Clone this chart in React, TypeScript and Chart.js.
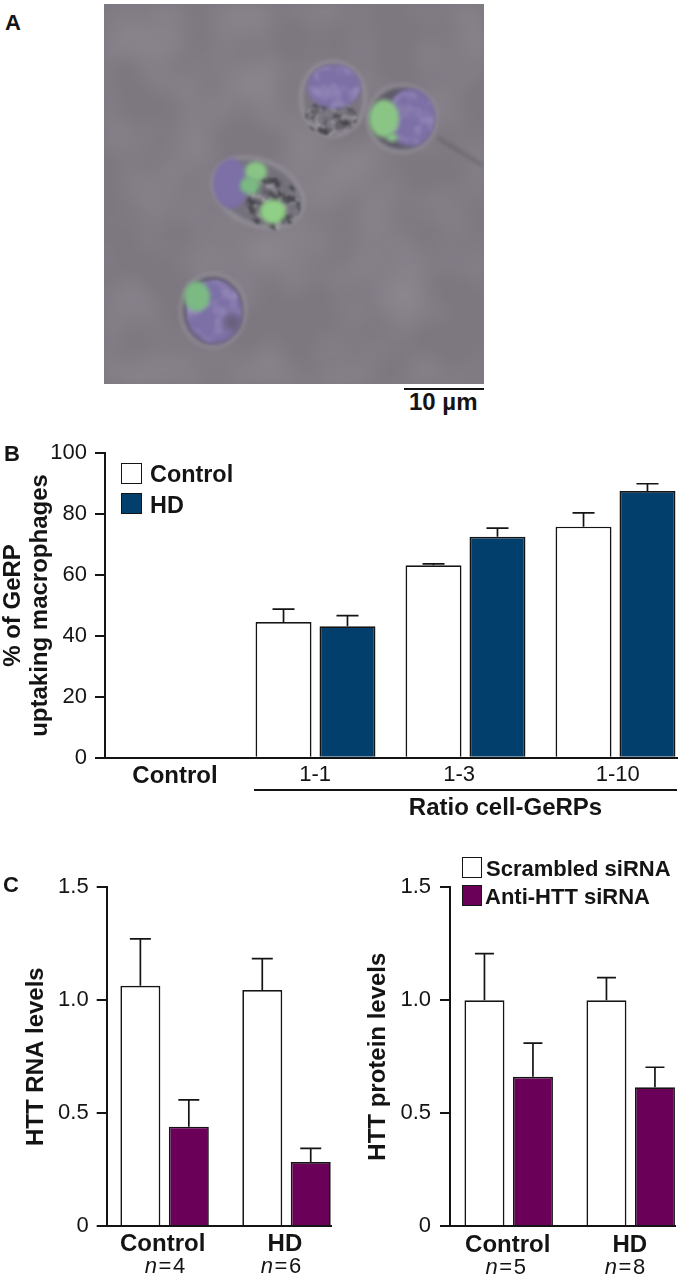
import React, { useEffect, useRef } from "react";
import { Chart, registerables } from "chart.js";

Chart.register(...registerables);

const FONT = '"Liberation Sans", Arial, sans-serif';
const INK = "#141414";
const NAVY = "#033f6c";
const PURPLE = "#6b0058";

// Panel B
const uptakeCategories = ["Control", "1-1", "1-3", "1-10"];
const uptakeControl = [null, 44.6, 63.2, 75.9];
const uptakeControlErr = [0, 4.2, 0.5, 4.5];
const uptakeHD = [null, 43.2, 72.6, 87.6];
const uptakeHDErr = [0, 3.5, 2.8, 2.4];

// Panel C
const siCategories = ["Control", "HD"];
const rnaScrambled = [1.064, 1.045];
const rnaScrambledErr = [0.208, 0.139];
const rnaAnti = [0.44, 0.283];
const rnaAntiErr = [0.119, 0.061];
const rnaN = ["4", "6"];
const proteinScrambled = [1.0, 1.0];
const proteinScrambledErr = [0.206, 0.1];
const proteinAnti = [0.661, 0.614];
const proteinAntiErr = [0.149, 0.089];
const proteinN = ["5", "8"];

const errorBarsPlugin = {
  id: "errorBars",
  afterDatasetsDraw(chart: any) {
    const { ctx, scales } = chart;
    const capHalf = chart.options.plugins.errorBars.capHalf;
    chart.data.datasets.forEach((ds: any, d: number) => {
      const meta = chart.getDatasetMeta(d);
      ds.data.forEach((pt: any, i: number) => {
        if (pt.y === null) return;
        const x = meta.data[i].x;
        const y0 = scales.y.getPixelForValue(pt.y);
        const y1 = scales.y.getPixelForValue(pt.y + ds.errors[i]);
        ctx.save();
        ctx.strokeStyle = INK;
        ctx.lineWidth = 1.7;
        ctx.beginPath();
        ctx.moveTo(x, y0);
        ctx.lineTo(x, y1);
        ctx.moveTo(x - capHalf, y1);
        ctx.lineTo(x + capHalf, y1);
        ctx.stroke();
        ctx.restore();
      });
    });
  },
};

const annotationsPlugin = {
  id: "annotations",
  afterDraw(chart: any) {
    const { ctx, scales } = chart;
    const o = chart.options.plugins.annotations;
    ctx.save();
    ctx.fillStyle = INK;
    ctx.textBaseline = "middle";
    if (o.bracket) {
      const b = o.bracket;
      const from = scales.x.getPixelForValue(b.fromValue);
      const to = scales.x.right;
      const y = scales.y.bottom + b.lineOffset;
      ctx.strokeStyle = INK;
      ctx.lineWidth = 2;
      ctx.beginPath();
      ctx.moveTo(from, y);
      ctx.lineTo(to, y);
      ctx.stroke();
      ctx.font = `bold 24px ${FONT}`;
      ctx.textAlign = "center";
      ctx.fillText(b.text, b.textX, scales.y.bottom + b.textOffset);
    }
    (o.sampleSizes || []).forEach((n: string, i: number) => {
      const cx = scales.x.getPixelForValue(i) + o.sampleNudge[i];
      const y = scales.y.bottom + o.sampleOffset;
      const gap = 1.6;
      ctx.font = `italic 22px ${FONT}`;
      const nW = ctx.measureText("n").width;
      ctx.font = `22px ${FONT}`;
      const eqW = ctx.measureText("=").width;
      const numW = ctx.measureText(n).width;
      const left = cx - (nW + eqW + numW + 2 * gap) / 2;
      ctx.textAlign = "left";
      ctx.font = `italic 22px ${FONT}`;
      ctx.fillText("n", left, y);
      ctx.font = `22px ${FONT}`;
      ctx.fillText("=", left + nW + gap, y);
      ctx.fillText(n, left + nW + eqW + 2 * gap, y);
    });
    ctx.restore();
  },
};

function useBarChart(build: () => any) {
  const ref = useRef<HTMLCanvasElement | null>(null);
  useEffect(() => {
    if (!ref.current) return;
    const chart = new Chart(ref.current, build());
    return () => chart.destroy();
  }, []);
  return ref;
}

function config(p: any) {
  const { w, h, area, c0, spacing, labels, series, yMax, yStep, yFmt, title, titlePad, catPct, barPct, capHalf, labelPos, labelFont, labelPad, yPad, annotations } = p;
  return {
    type: "bar",
    data: {
      datasets: series.map((s: any) => ({
        label: s.label,
        data: s.values.map((y: any, i: number) => ({ x: i, y })),
        errors: s.errors,
        backgroundColor: s.color,
        borderColor: INK,
        borderWidth: 1.7,
        categoryPercentage: catPct,
        barPercentage: barPct,
      })),
    },
    plugins: [errorBarsPlugin, annotationsPlugin],
    options: {
      responsive: false,
      animation: false,
      events: [],
      layout: {
        autoPadding: false,
        padding: { left: 0, top: area.top, right: w - area.right, bottom: 0 },
      },
      plugins: {
        legend: { display: false },
        tooltip: { enabled: false },
        title: { display: false },
        errorBars: { capHalf },
        annotations,
      },
      scales: {
        x: {
          type: "linear",
          offset: false,
          min: (area.left - c0) / spacing,
          max: (area.right - c0) / spacing,
          afterFit: (s: any) => {
            s.height = h - area.bottom;
            s.paddingLeft = 0;
            s.paddingRight = 0;
          },
          afterBuildTicks: (s: any) => { s.ticks = labelPos.map((value: number) => ({ value })); },
          grid: { display: false, drawTicks: false, offset: false },
          border: { display: true, color: INK, width: 2, z: 2 },
          ticks: {
            autoSkip: false,
            maxRotation: 0,
            minRotation: 0,
            padding: labelPad,
            color: INK,
            font: labelFont,
            callback: (_v: any, i: number) => labels[i],
          },
        },
        y: {
          min: 0,
          max: yMax,
          afterFit: (s: any) => {
            s.width = area.left;
            s.paddingTop = 0;
            s.paddingBottom = 0;
          },
          grid: { drawOnChartArea: false, drawTicks: true, tickLength: 10, color: INK, lineWidth: 2 },
          border: { display: true, color: INK, width: 2, z: 2 },
          ticks: {
            stepSize: yStep,
            padding: yPad,
            color: INK,
            font: { family: FONT, size: 22 },
            callback: yFmt,
          },
          title: {
            display: true,
            text: title,
            color: INK,
            padding: { top: titlePad, bottom: 0 },
            font: { family: FONT, size: 24, weight: "bold", lineHeight: 1.125 },
          },
        },
      },
    },
  };
}

const boldTick = { family: FONT, size: 24, weight: "bold" };
const regularTick = { family: FONT, size: 22, weight: "normal" };
const decimalFmt = (v: number) => (v === 0 ? "0" : v.toFixed(1));

function Micrograph() {
  const bg = "#7d7780";
  const violet = "#7c6fa6";
  const green = "#8ac586";
  const ring = "#9e9aa2";
  return (
    <svg width={380} height={380} viewBox="104 3.5 380 380" style={{ position: "absolute", left: 104, top: 3.5 }}>
      <defs>
        <filter id="mottle" x="0" y="0" width="100%" height="100%">
          <feTurbulence type="fractalNoise" baseFrequency="0.014" numOctaves="2" seed="7" />
          <feColorMatrix values="0 0 0 0 0.36  0 0 0 0 0.34  0 0 0 0 0.38  0.9 0 0 0 -0.33" />
          <feGaussianBlur stdDeviation="4" />
        </filter>
        <filter id="soft" x="-20%" y="-20%" width="140%" height="140%"><feGaussianBlur stdDeviation="2" /></filter>
        <filter id="softer" x="-40%" y="-40%" width="180%" height="180%"><feGaussianBlur stdDeviation="3.5" /></filter>
        <filter id="debris" x="-10%" y="-10%" width="120%" height="120%">
          <feTurbulence type="fractalNoise" baseFrequency="0.11" numOctaves="2" seed="3" />
          <feColorMatrix values="0 0 0 0 0.06  0 0 0 0 0.06  0 0 0 0 0.07  3.4 0 0 0 -1.4" />
          <feComposite in2="SourceAlpha" operator="in" />
          <feGaussianBlur stdDeviation="0.8" />
        </filter>
        <filter id="flecks" x="-10%" y="-10%" width="120%" height="120%">
          <feTurbulence type="fractalNoise" baseFrequency="0.14" numOctaves="2" seed="11" />
          <feColorMatrix values="0 0 0 0 0.42  0 0 0 0 0.42  0 0 0 0 0.44  2.4 0 0 0 -1.25" />
          <feComposite in2="SourceAlpha" operator="in" />
          <feGaussianBlur stdDeviation="0.9" />
        </filter>
        <filter id="grain" x="-5%" y="-5%" width="110%" height="110%">
          <feTurbulence type="fractalNoise" baseFrequency="0.07" numOctaves="2" seed="21" />
          <feColorMatrix values="0 0 0 0 0.32  0 0 0 0 0.27  0 0 0 0 0.5  2.2 0 0 0 -0.95" />
          <feComposite in2="SourceAlpha" operator="in" />
          <feGaussianBlur stdDeviation="1" />
        </filter>
      </defs>
      <rect x={104} y={3.5} width={380} height={380} fill={bg} />
      <rect x={104} y={3.5} width={380} height={380} filter="url(#mottle)" />
      <path d="M437 137 L483 165" stroke="#5a555e" strokeWidth={2} filter="url(#soft)" fill="none" />

      {/* cell top */}
      <ellipse cx={333} cy={98} rx={32} ry={37} fill="#7a757f" stroke={ring} strokeWidth={2.5} filter="url(#soft)" />
      <ellipse cx={331} cy={117} rx={26} ry={18} fill="#000" filter="url(#debris)" />
      <ellipse cx={331} cy={117} rx={26} ry={18} fill="#000" filter="url(#flecks)" />
      <ellipse cx={334} cy={86} rx={27} ry={22} fill={violet} filter="url(#soft)" />
      <ellipse cx={334} cy={86} rx={26} ry={21} fill="#000" filter="url(#grain)" />

      {/* cell right */}
      <ellipse cx={402} cy={118} rx={34} ry={33} fill="#5f5a68" stroke={ring} strokeWidth={2.5} filter="url(#soft)" />
      <ellipse cx={411} cy={117} rx={24} ry={29} fill={violet} filter="url(#soft)" />
      <ellipse cx={411} cy={117} rx={23} ry={28} fill="#000" filter="url(#grain)" />
      <ellipse cx={384} cy={118} rx={15} ry={19} fill={green} filter="url(#soft)" />
      <ellipse cx={392} cy={137} rx={6} ry={4} fill={green} filter="url(#soft)" />

      {/* cell middle */}
      <g transform="rotate(24 258 192)">
        <ellipse cx={258} cy={192} rx={47} ry={32} fill="#75717b" stroke={ring} strokeWidth={2.5} filter="url(#soft)" />
        <ellipse cx={276} cy={196} rx={28} ry={26} fill="#000" filter="url(#debris)" />
        <ellipse cx={276} cy={196} rx={28} ry={26} fill="#000" filter="url(#flecks)" />
      </g>
      <ellipse cx={231} cy={183} rx={18} ry={25} fill={violet} filter="url(#soft)" />
      <ellipse cx={256} cy={171} rx={11} ry={10} fill={green} filter="url(#soft)" />
      <ellipse cx={250} cy={185} rx={10} ry={9} fill="#7ab982" filter="url(#soft)" />
      <ellipse cx={273} cy={211} rx={13} ry={12} fill="#90cf86" filter="url(#soft)" />

      {/* cell bottom */}
      <ellipse cx={213} cy={310} rx={32} ry={36} fill="#5d5866" stroke={ring} strokeWidth={2.5} filter="url(#soft)" />
      <ellipse cx={214} cy={311} rx={28} ry={32} fill={violet} filter="url(#soft)" />
      <ellipse cx={214} cy={311} rx={27} ry={31} fill="#000" filter="url(#grain)" />
      <ellipse cx={197} cy={296} rx={13} ry={15} fill="#7cba84" filter="url(#soft)" />
      <ellipse cx={232} cy={322} rx={8} ry={8} fill="#665f78" filter="url(#softer)" />
    </svg>
  );
}

const label = (extra: React.CSSProperties): React.CSSProperties => ({
  position: "absolute",
  fontFamily: FONT,
  fontWeight: "bold",
  color: INK,
  whiteSpace: "nowrap",
  lineHeight: 1,
  ...extra,
});

const swatch = (left: number, top: number, fill: string, h = 21): React.CSSProperties => ({
  position: "absolute",
  left,
  top,
  width: 20.5,
  height: h,
  boxSizing: "border-box",
  background: fill,
  border: `1.7px solid ${INK}`,
});

export default function App() {
  const bRef = useBarChart(() =>
    config({
      w: 680, h: 395,
      area: { left: 105, top: 13.3, right: 677, bottom: 317.7 },
      c0: 165.5, spacing: 150,
      labels: uptakeCategories,
      labelPos: [0.063, 0.997, 1.957, 3.015],
      labelFont: (ctx: any) => (ctx.index === 0 ? boldTick : regularTick),
      labelPad: 4,
      yPad: 8,
      series: [
        { label: "Control", values: uptakeControl, errors: uptakeControlErr, color: "#ffffff" },
        { label: "HD", values: uptakeHD, errors: uptakeHDErr, color: NAVY },
      ],
      yMax: 100, yStep: 20, yFmt: (v: number) => String(v),
      title: ["% of GeRP", "uptaking macrophages"], titlePad: 0,
      catPct: 0.913, barPct: 0.875, capHalf: 11,
      annotations: {
        bracket: { fromValue: 0.59, lineOffset: 32.3, text: "Ratio cell-GeRPs", textX: 505.5, textOffset: 50.5 },
      },
    })
  );
  const rnaRef = useBarChart(() =>
    config({
      w: 340, h: 410,
      area: { left: 106.7, top: 17.3, right: 331.5, bottom: 356 },
      c0: 164.6, spacing: 121.9,
      labels: siCategories,
      labelPos: [-0.016, 0.987],
      labelFont: boldTick,
      labelPad: 4,
      yPad: 8,
      series: [
        { label: "Scrambled siRNA", values: rnaScrambled, errors: rnaScrambledErr, color: "#ffffff" },
        { label: "Anti-HTT siRNA", values: rnaAnti, errors: rnaAntiErr, color: PURPLE },
      ],
      yMax: 1.5, yStep: 0.5, yFmt: decimalFmt,
      title: "HTT RNA levels", titlePad: 23,
      catPct: 0.795, barPct: 0.825, capHalf: 10.5,
      annotations: { sampleSizes: rnaN, sampleNudge: [0.4, -5.5], sampleOffset: 40.7 },
    })
  );
  const proteinRef = useBarChart(() =>
    config({
      w: 340, h: 410,
      area: { left: 110, top: 17.3, right: 335.5, bottom: 356 },
      c0: 168.7, spacing: 122,
      labels: siCategories,
      labelPos: [-0.008, 0.992],
      labelFont: boldTick,
      labelPad: 5,
      yPad: 9,
      series: [
        { label: "Scrambled siRNA", values: proteinScrambled, errors: proteinScrambledErr, color: "#ffffff" },
        { label: "Anti-HTT siRNA", values: proteinAnti, errors: proteinAntiErr, color: PURPLE },
      ],
      yMax: 1.5, yStep: 0.5, yFmt: decimalFmt,
      title: "HTT protein levels", titlePad: 24.5,
      catPct: 0.795, barPct: 0.825, capHalf: 9.5,
      annotations: { sampleSizes: proteinN, sampleNudge: [-3, -5.8], sampleOffset: 41.7 },
    })
  );

  return (
    <div style={{ position: "absolute", left: 0, top: 0, width: 680, height: 1280, background: "#fff", overflow: "hidden" }}>
      <span style={label({ left: 5, top: 12, fontSize: 22 })}>A</span>
      <Micrograph />
      <div style={{ position: "absolute", left: 404, top: 388, width: 79.5, height: 2.2, background: INK }} />
      <span style={label({ left: 409, top: 390, fontSize: 24 })}>10 µm</span>

      <canvas ref={bRef} width={680} height={395} style={{ position: "absolute", left: 0, top: 440 }} />
      <span style={label({ left: 4, top: 443, fontSize: 22 })}>B</span>
      <div style={swatch(121, 463, "#ffffff")} />
      <span style={label({ left: 150, top: 463, fontSize: 23.4 })}>Control</span>
      <div style={swatch(121, 493, NAVY)} />
      <span style={label({ left: 150, top: 494, fontSize: 23.4 })}>HD</span>

      <canvas ref={rnaRef} width={340} height={410} style={{ position: "absolute", left: 0, top: 870 }} />
      <canvas ref={proteinRef} width={340} height={410} style={{ position: "absolute", left: 340, top: 870 }} />
      <span style={label({ left: 3, top: 874, fontSize: 22 })}>C</span>
      <div style={swatch(461.5, 857, "#ffffff")} />
      <span style={label({ left: 486, top: 857.5, fontSize: 22 })}>Scrambled siRNA</span>
      <div style={swatch(461.5, 885, PURPLE)} />
      <span style={label({ left: 485, top: 886, fontSize: 22 })}>Anti-HTT siRNA</span>
    </div>
  );
}
